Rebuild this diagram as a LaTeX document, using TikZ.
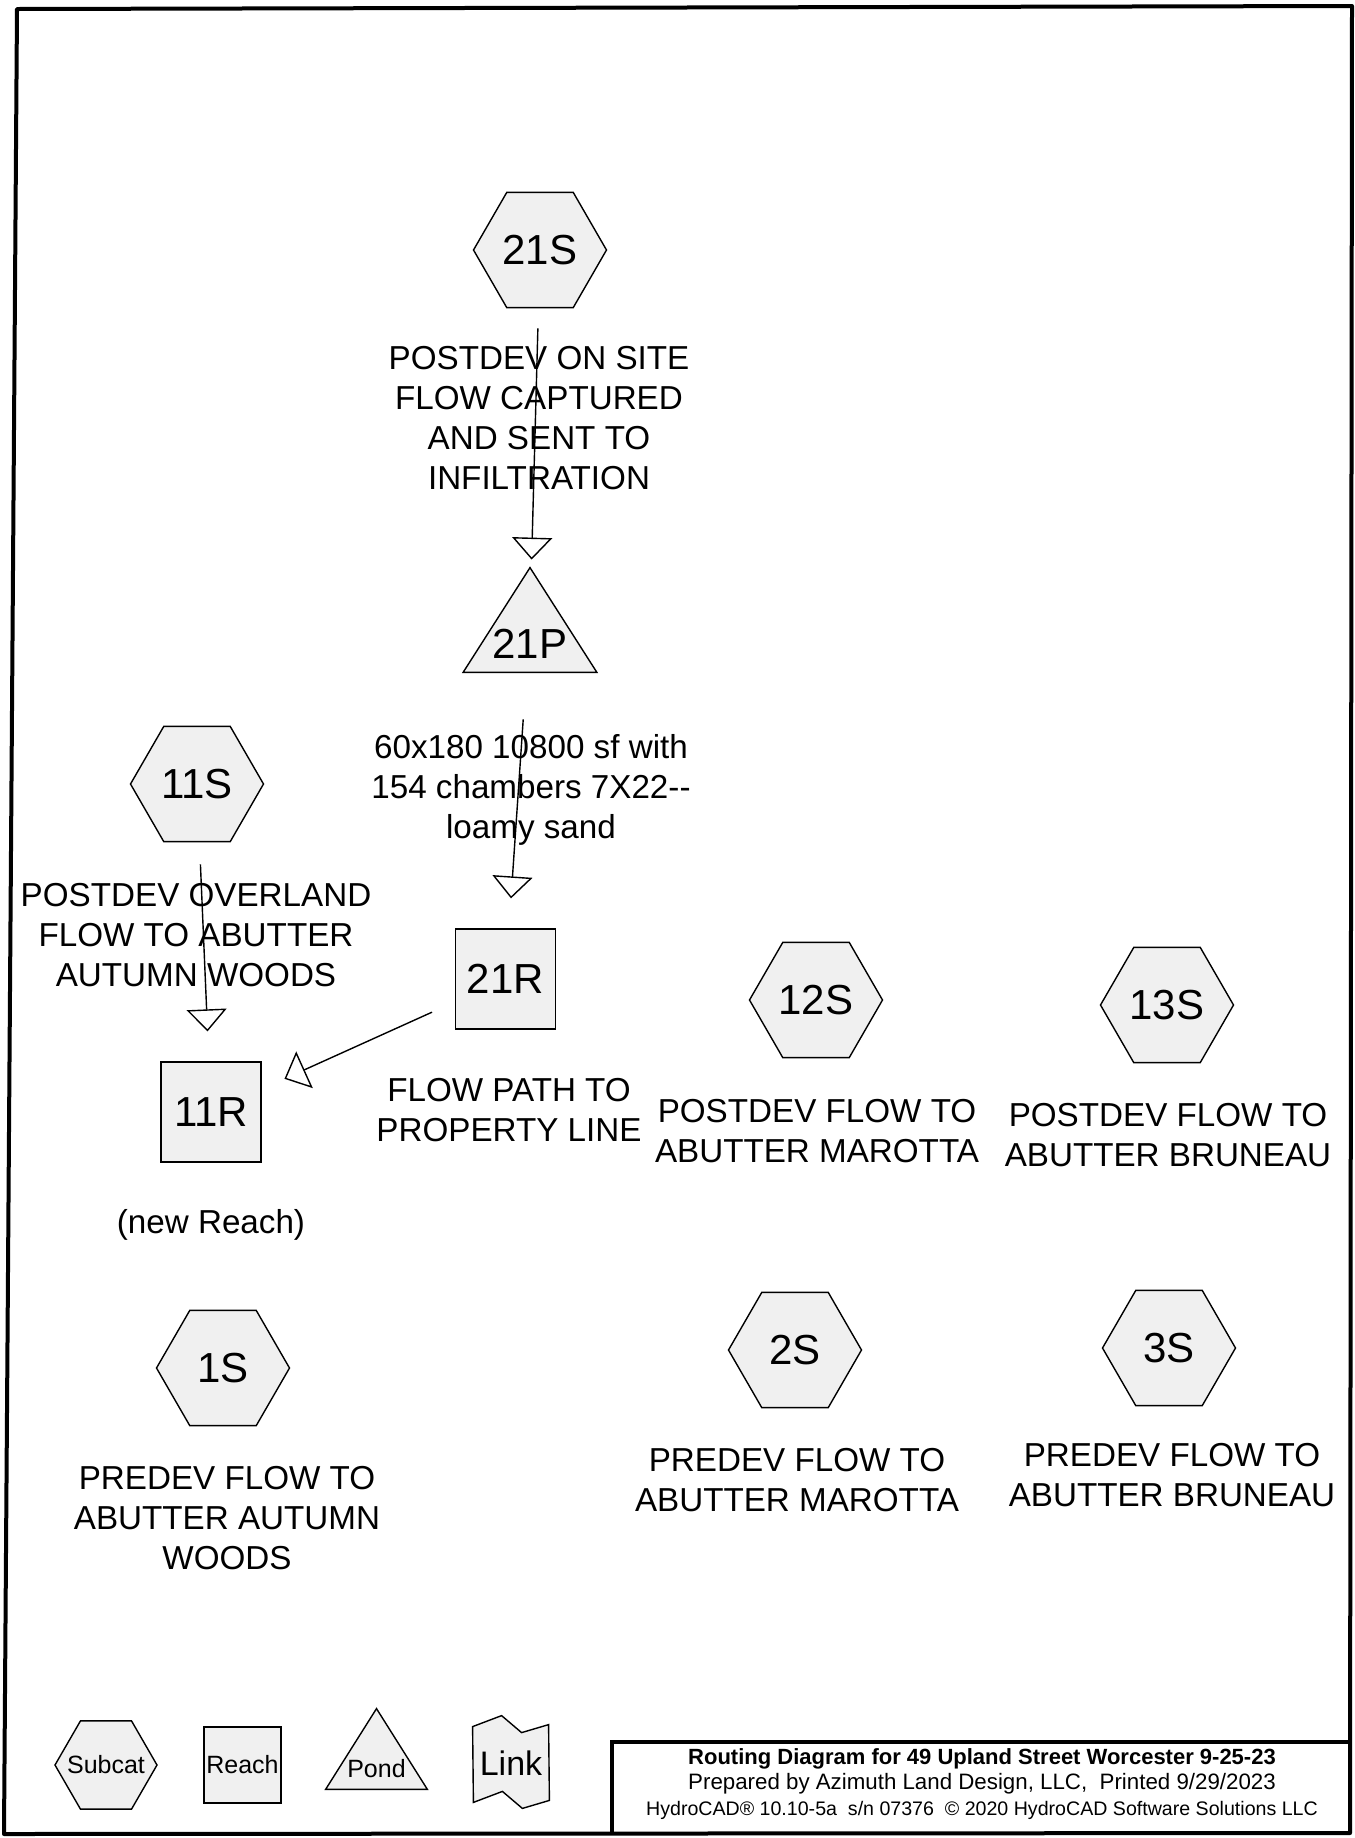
\documentclass[tikz,border=0pt]{standalone}
\usepackage{fontspec}
\setmainfont{Liberation Sans}
\usetikzlibrary{shapes.geometric, arrows.meta, backgrounds}

\tikzset{
    shapeline/.style={draw, fill=black!6, line width=0.7pt},
    subcat/.style={shapeline, regular polygon, regular polygon sides=6,
        minimum size=66.5pt, inner sep=0pt, font=\fontsize{21}{25}\selectfont},
    reach/.style={shapeline, rectangle, minimum size=50pt, inner sep=0pt,
        font=\fontsize{21}{25}\selectfont},
    pond/.style={rectangle, minimum width=66.5pt, minimum height=52pt,
        inner sep=0pt, text depth=0pt, font=\fontsize{21}{25}\selectfont},
    note/.style={align=center, inner sep=0pt, font=\fontsize{16.6}{20}\selectfont},
    flow/.style={line width=0.7pt, -{Triangle[open, length=11pt, width=20pt]}},
    frame/.style={line width=2pt, line join=round},
}

\begin{document}
\begin{tikzpicture}[x=0.5pt, y=-0.5pt]
    \useasboundingbox (0,0) rectangle (1355,1838);

    % Page frame and title block
    \draw[frame] (17,9) -- (1352,6) -- (1350,1833) -- (4,1834) -- cycle;
    \draw[line width=1.6pt] (612,1834) -- (612,1742) -- (1351,1742);
    \node[align=center, inner sep=0pt, font=\fontsize{11.15}{12.8}\selectfont] (title) at (982,1784)
        {{\bfseries\fontsize{11}{12.8}\selectfont Routing Diagram for 49 Upland Street Worcester 9-25-23}\\
         Prepared by Azimuth Land Design, LLC,\ \ Printed 9/29/2023\\
         {\fontsize{9.8}{12.8}\selectfont HydroCAD® 10.10-5a\ \ s/n 07376\ \ © 2020 HydroCAD Software Solutions LLC}};

    % Subcatchments, reaches and pond
    \node[subcat] (21S) at (540,250) {21S};
    \node[pond, text height=38pt] (21P) at (530,620) {21P};
    \node[subcat] (11S) at (197,784) {11S};
    \node[reach] (21R) at (505.5,979) {21R};
    \node[reach] (11R) at (211,1112) {11R};
    \node[subcat] (12S) at (816,1000) {12S};
    \node[subcat] (13S) at (1167,1005) {13S};
    \node[subcat] (1S) at (223,1368) {1S};
    \node[subcat] (2S) at (795,1350) {2S};
    \node[subcat] (3S) at (1169,1348) {3S};

    % Descriptions
    \node[note] (d21S) at (539,418) {POSTDEV ON SITE\\FLOW CAPTURED\\AND SENT TO\\INFILTRATION};
    \node[note] (d21P) at (531,790) {60x180 10800 sf with\\154 chambers 7X22-{}-\\loamy sand};
    \node[note] (d11S) at (196,935) {POSTDEV OVERLAND\\FLOW TO ABUTTER\\AUTUMN WOODS};
    \node[note] (d21R) at (509,1110) {FLOW PATH TO\\PROPERTY LINE};
    \node[note] (d11R) at (211,1225) {(new Reach)};
    \node[note] (d12S) at (817,1131) {POSTDEV FLOW TO\\ABUTTER MAROTTA};
    \node[note] (d13S) at (1168,1135) {POSTDEV FLOW TO\\ABUTTER BRUNEAU};
    \node[note] (d1S) at (227,1518) {PREDEV FLOW TO\\ABUTTER AUTUMN\\WOODS};
    \node[note] (d2S) at (797,1480) {PREDEV FLOW TO\\ABUTTER MAROTTA};
    \node[note] (d3S) at (1172,1475) {PREDEV FLOW TO\\ABUTTER BRUNEAU};

    % Legend
    \node[subcat, minimum size=51pt, font=\fontsize{12.5}{15}\selectfont] (lsub) at (106,1765) {\makebox[0pt]{Subcat}};
    \node[reach, minimum width=38.5pt, minimum height=38pt, font=\fontsize{12.5}{15}\selectfont] (lreach) at (242.5,1765) {Reach};
    \node[pond, minimum width=50.5pt, minimum height=40pt, text height=28pt,
        font=\fontsize{12.5}{15}\selectfont] (lpond) at (376.5,1749) {Pond};
    \node[rectangle, minimum width=38pt, minimum height=36.5pt, inner sep=0pt,
        font=\fontsize{17}{20}\selectfont] (llink) at (511,1763.5) {Link};

    \begin{scope}[on background layer]
        \draw[shapeline] (21P.south west) -- (21P.north) -- (21P.south east) -- cycle;
        \draw[shapeline] (lpond.south west) -- (lpond.north) -- (lpond.south east) -- cycle;
        \draw[shapeline] (llink.north west) -- ++(29,-11) -- ++(20,17) -- ++(27,-8)
            -- (llink.south east) -- ++(-27,8) -- ++(-20,-17) -- ++(-29,11) -- cycle;
    \end{scope}

    % Routing
    \draw[flow, shorten <=10pt, shorten >=4pt] (21S) -- (21P);
    \draw[flow, shorten <=23.5pt, shorten >=15pt] (21P) -- (21R);
    \draw[flow, shorten <=11pt, shorten >=15pt] (11S) -- (11R);
    \draw[flow, shorten <=12.5pt, shorten >=12.5pt] (21R) -- (11R);

\end{tikzpicture}
\end{document}
